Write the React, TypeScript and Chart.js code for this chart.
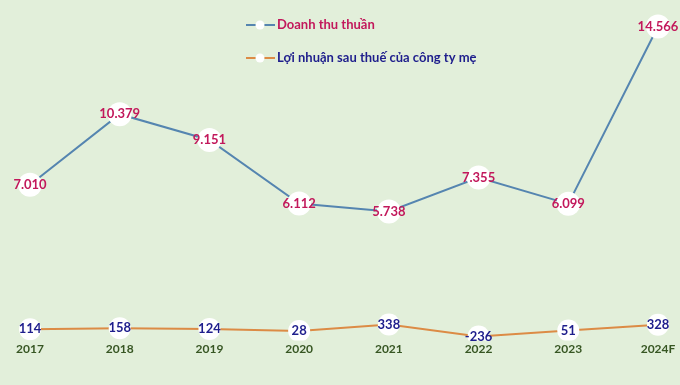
import React, { useEffect, useRef } from "react";
import { Chart, registerables } from "chart.js";

Chart.register(...registerables);

const years = ["2017", "2018", "2019", "2020", "2021", "2022", "2023", "2024F"];
const revenue = [7010, 10379, 9151, 6112, 5738, 7355, 6099, 14566];
const profit = [114, 158, 124, 28, 338, -236, 51, 328];
const seriesNames = ["Doanh thu thuần", "Lợi nhuận sau thuế của công ty mẹ"];

const BG = "#E2EFDA";
const BLUE = "#5585B0";
const ORANGE = "#DC8B45";
const PINK = "#C2185B";
const NAVY = "#1E1E8C";
const GREEN = "#375623";
const FONT = "Lato, 'Open Sans', sans-serif";

function fmt(v: number): string {
  const s = String(Math.abs(v)).replace(/\B(?=(\d{3})+(?!\d))/g, ".");
  return (v < 0 ? "-" : "") + s;
}

const labelColors = [PINK, NAVY];
const lineColors = [BLUE, ORANGE];

const bgPlugin = {
  id: "bgFill",
  beforeDraw(chart: any) {
    const { ctx, width, height } = chart;
    ctx.save();
    ctx.fillStyle = BG;
    ctx.fillRect(0, 0, width, height);
    ctx.restore();
  },
};

const valueLabels = {
  id: "valueLabels",
  afterDatasetsDraw(chart: any) {
    const { ctx } = chart;
    ctx.save();
    ctx.font = `bold 13px ${FONT}`;
    ctx.textAlign = "center";
    ctx.textBaseline = "middle";
    chart.data.datasets.forEach((ds: any, i: number) => {
      const meta = chart.getDatasetMeta(i);
      ctx.fillStyle = labelColors[i];
      meta.data.forEach((pt: any, j: number) => {
        ctx.fillText(fmt(ds.data[j]), pt.x, pt.y);
      });
    });
    ctx.restore();
  },
};

const customLegend = {
  id: "customLegend",
  afterDraw(chart: any) {
    const { ctx } = chart;
    ctx.save();
    const rows = [25, 58];
    rows.forEach((y, i) => {
      ctx.strokeStyle = lineColors[i];
      ctx.lineWidth = 2;
      ctx.beginPath();
      ctx.moveTo(246, y);
      ctx.lineTo(275, y);
      ctx.stroke();
      ctx.fillStyle = "#FFFFFF";
      ctx.beginPath();
      ctx.arc(260, y, 4.5, 0, Math.PI * 2);
      ctx.fill();
      ctx.fillStyle = labelColors[i];
      ctx.font = `bold 13px ${FONT}`;
      ctx.textAlign = "left";
      ctx.textBaseline = "middle";
      ctx.fillText(seriesNames[i], 277, y);
    });
    ctx.restore();
  },
};

export default function App() {
  const ref = useRef<HTMLCanvasElement | null>(null);
  useEffect(() => {
    document.body.style.margin = "0";
    if (!ref.current) return;
    const chart = new Chart(ref.current, {
      type: "line",
      data: {
        labels: years,
        datasets: [
          {
            label: seriesNames[0],
            data: revenue,
            borderColor: BLUE,
            borderWidth: 2,
            pointRadius: 12,
            pointBackgroundColor: "#FFFFFF",
            pointBorderWidth: 0,
            pointBorderColor: "#FFFFFF",
            tension: 0,
          },
          {
            label: seriesNames[1],
            data: profit,
            borderColor: ORANGE,
            borderWidth: 2,
            pointRadius: 11,
            pointBackgroundColor: "#FFFFFF",
            pointBorderWidth: 0,
            pointBorderColor: "#FFFFFF",
            tension: 0,
          },
        ],
      },
      options: {
        animation: false,
        responsive: false,
        layout: { padding: { top: 9, left: 30, right: 22, bottom: 28 } },
        plugins: {
          legend: { display: false },
          tooltip: { enabled: false },
        },
        scales: {
          x: {
            offset: false,
            grid: { display: false, drawTicks: false },
            border: { display: false },
            ticks: {
              color: GREEN,
              font: { family: FONT, size: 12, weight: "bold" },
              padding: 1,
              maxRotation: 0,
              autoSkip: false,
            },
          },
          y: {
            display: false,
            min: -430,
            max: 15260,
          },
        },
      },
      plugins: [bgPlugin, valueLabels, customLegend],
    });
    return () => chart.destroy();
  }, []);
  return (
    <div style={{ width: 680, height: 385 }}>
      <canvas ref={ref} width={680} height={385} />
    </div>
  );
}
